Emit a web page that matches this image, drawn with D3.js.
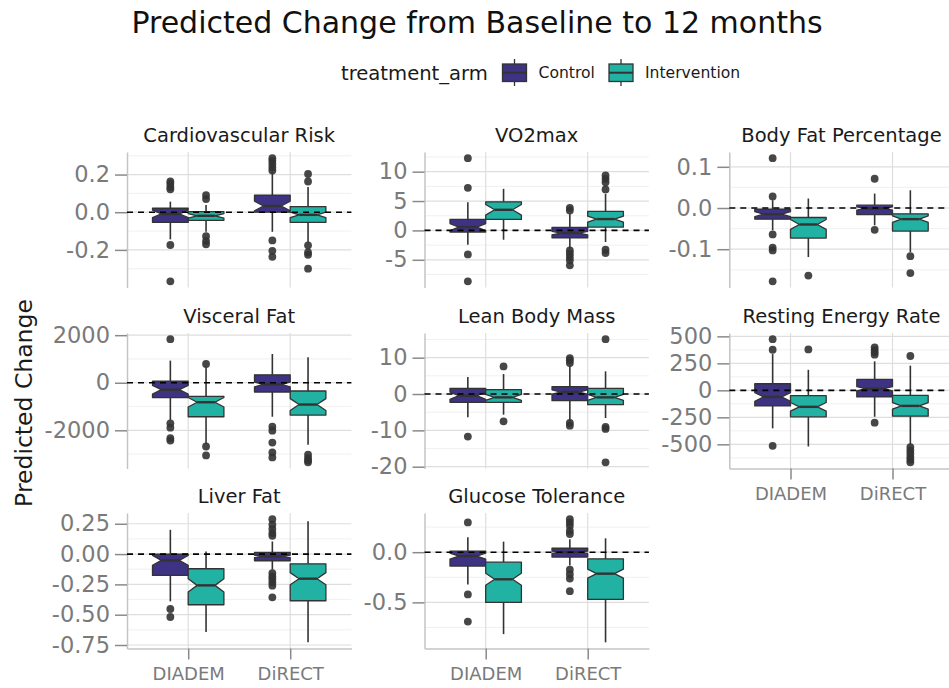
<!DOCTYPE html>
<html lang="en">
<head>
<meta charset="UTF-8">
<title>Predicted Change from Baseline to 12 months</title>
<script src="https://cdn.jsdelivr.net/npm/d3@7"></script>
<style>
body{margin:0;background:#fff;}
svg{display:block;font-family:"DejaVu Sans",sans-serif;}
</style>
</head>
<body>
<script>
// categories
var studies = ["DIADEM", "DiRECT"];
var arms = ["Control", "Intervention"];
var outcomes = ["Cardiovascular Risk", "VO2max", "Body Fat Percentage",
                "Visceral Fat", "Lean Body Mass", "Resting Energy Rate",
                "Liver Fat", "Glucose Tolerance"];

// each panel: 4 boxes in order DIADEM-Control, DIADEM-Intervention, DiRECT-Control, DiRECT-Intervention
// box = [lower whisker, Q1, median, Q3, upper whisker, notch half-width]
var cardioBox = [[-0.144,-0.054,-0.009,0.021,0.056,0.02],[-0.104,-0.043,-0.019,0.003,0.038,0.012],
                 [-0.104,0.0,0.033,0.09,0.212,0.025],[-0.162,-0.054,-0.014,0.03,0.134,0.015]];
var cardioOut = [[0.163,0.151,0.134,0.122,-0.174,-0.367],[0.09,0.07,-0.127,-0.153,-0.17],
                 [0.287,0.273,0.256,0.238,0.221,-0.15,-0.205,-0.237],[0.203,0.163,-0.176,-0.214,-0.226,-0.30]];

var vo2Box = [[-2.44,-0.28,0.57,1.87,4.8,0.6],[-1.59,1.87,3.51,4.87,7.08,0.9],
              [-3.1,-1.25,-0.45,0.51,2.83,0.3],[-1.98,0.57,1.93,3.23,6.23,0.5]];
var vo2Out = [[12.3,7.25,-4.08,-8.67],[],
              [3.85,3.4,-3.4,-3.97,-4.53,-5.1,-5.95],[9.35,8.78,8.2,6.97,-3.29,-3.85]];

var bodyFatBox = [[-0.054,-0.027,-0.015,-0.003,0.019,0.006],[-0.119,-0.073,-0.04,-0.023,0.023,0.012],
                  [-0.042,-0.016,-0.001,0.007,0.035,0.004],[-0.107,-0.056,-0.027,-0.014,0.043,0.008]];
var bodyFatOut = [[0.121,0.028,-0.064,-0.096,-0.103,-0.178],[-0.164],
                  [0.071,-0.053],[-0.117,-0.158]];

var visceralBox = [[-1570,-625,-292,69,931,180],[-2570,-1430,-819,-569,680,200],
                   [-1430,-389,-69,333,1208,100],[-2611,-1361,-917,-347,1070,250]];
var visceralOut = [[1833,-1708,-1889,-2333,-2430],[792,-2680,-3056],
                   [-1847,-2014,-2514,-2930,-3139],[-3028,-3167,-3264,-3347]];

var leanBox = [[-6.42,-2.29,-0.46,1.56,4.68,1.0],[-5.69,-2.29,-0.92,1.19,5.5,0.8],
               [-7.52,-1.83,0.55,2.02,7.8,0.6],[-6.6,-2.94,-0.92,1.56,6.24,0.8]];
var leanOut = [[-11.7],[7.6,-7.52],
               [9.9,9.27,8.53,-7.98,-8.72],[15.1,-9.08,-9.6,-18.8]];

var reeBox = [[-352,-144,-61,61,336,40],[-520,-245,-153,-49,190,40],
              [-245,-61,15,101,269,20],[-505,-239,-144,-46,229,30]];
var reeOut = [[474,376,-514],[379],
              [398,373,352,330,-300],[318,-526,-557,-587,-618,-642,-667]];

var liverBox = [[-0.39,-0.176,-0.052,0.0,0.2,0.04],[-0.643,-0.418,-0.258,-0.121,0.022,0.055],
                [-0.129,-0.055,-0.019,0.014,0.104,0.01],[-0.728,-0.385,-0.203,-0.08,0.27,0.05]];
var liverOut = [[-0.453,-0.519],[],
                [0.288,0.242,0.206,0.173,0.151,-0.157,-0.184,-0.206,-0.234,-0.261,-0.357],[]];

var glucoseBox = [[-0.322,-0.138,-0.039,0.01,0.148,0.03],[-0.816,-0.5,-0.27,-0.099,0.105,0.06],
                  [-0.132,-0.049,0.0,0.039,0.13,0.012],[-0.898,-0.47,-0.214,-0.066,0.138,0.045]];
var glucoseOut = [[0.296,-0.421,-0.691],[],
                  [0.329,0.296,0.263,0.214,0.181,-0.174,-0.22,-0.263,-0.388],[]];

// y tick labels per panel, and decimals used
var yTicks = [[-0.2,0,0.2],[-5,0,5,10],[-0.1,0,0.1],[-2000,0,2000],
              [-20,-10,0,10],[-500,-250,0,250,500],[-0.75,-0.5,-0.25,0,0.25],[-0.5,0]];
var yDigits = [1,0,1,0,0,0,2,1];

var allBoxes = [cardioBox, vo2Box, bodyFatBox, visceralBox, leanBox, reeBox, liverBox, glucoseBox];
var allOuts = [cardioOut, vo2Out, bodyFatOut, visceralOut, leanOut, reeOut, liverOut, glucoseOut];

var W = 949, H = 688;
var colLeft = [127, 424.5, 729.3];
var rowTop = [152, 333, 513];
var pw = 224.4, ph = 135.5;
var fillC = d3.scaleOrdinal().domain(arms).range(["#3e3382", "#21b2a4"]);
var lineC = "#333333";
var txtGrey = "#7a7a7a";

var svg = d3.select("body").append("svg").attr("width", W).attr("height", H);

// title
svg.append("text").attr("x", 477).attr("y", 33).attr("text-anchor", "middle")
   .attr("font-size", 30).attr("fill", "#111").text("Predicted Change from Baseline to 12 months");

// legend
svg.append("text").attr("x", 341).attr("y", 79.5).attr("font-size", 19.6).attr("fill", "#1a1a1a").text("treatment_arm");
var legX = [502.5, 609];
arms.forEach(function(a, i){
	var lg = svg.append("g").attr("transform", "translate(" + legX[i] + ",0)");
	lg.append("line").attr("x1", 12).attr("x2", 12).attr("y1", 59).attr("y2", 86).attr("stroke", lineC).attr("stroke-width", 1.3);
	lg.append("rect").attr("x", 0).attr("y", 64).attr("width", 24).attr("height", 17.5)
	  .attr("fill", fillC(a)).attr("stroke", lineC).attr("stroke-width", 1.3);
	lg.append("line").attr("x1", 0).attr("x2", 24).attr("y1", 72.7).attr("y2", 72.7).attr("stroke", lineC).attr("stroke-width", 2);
	svg.append("text").attr("x", legX[i] + 36).attr("y", 78.3).attr("font-size", 15.6).attr("fill", "#1a1a1a").text(a);
});

// y axis title
svg.append("text").attr("transform", "translate(32,403) rotate(-90)").attr("text-anchor", "middle")
   .attr("font-size", 23.5).attr("fill", "#1a1a1a").text("Predicted Change");

outcomes.forEach(function(name, k){
	var col = k % 3, row = Math.floor(k / 3);
	var boxes = allBoxes[k], outs = allOuts[k];
	var g = svg.append("g").attr("transform", "translate(" + colLeft[col] + "," + rowTop[row] + ")");

	var x = d3.scalePoint().domain(studies).range([0, pw]).padding(0.6);
	var dodge = d3.scaleBand().domain(arms).range([-0.35 * x.step(), 0.35 * x.step()]);

	var vals = [];
	boxes.forEach(function(b){ vals.push(b[0], b[4]); });
	outs.forEach(function(o){ vals = vals.concat(o); });
	var ext = d3.extent(vals), pad = (ext[1] - ext[0]) * 0.05;
	var y = d3.scaleLinear().domain([ext[0] - pad, ext[1] + pad]).range([ph, 0]);

	// grid: minor then major
	var t = yTicks[k], bd = t[1] - t[0], minor = [];
	for (var v = t[0] - bd; v <= t[t.length - 1] + bd + 1e-9; v += bd / 2) {
		var isMajor = t.some(function(m){ return Math.abs(m - v) < bd * 1e-6; });
		if (!isMajor && v >= y.domain()[0] && v <= y.domain()[1]) minor.push(v);
	}
	g.selectAll(".minor").data(minor).enter().append("line")
	 .attr("x1", 0).attr("x2", pw).attr("y1", function(d){ return y(d); }).attr("y2", function(d){ return y(d); })
	 .attr("stroke", "#ececec").attr("stroke-width", 0.8);
	g.selectAll(".major").data(t).enter().append("line")
	 .attr("x1", 0).attr("x2", pw).attr("y1", function(d){ return y(d); }).attr("y2", function(d){ return y(d); })
	 .attr("stroke", "#dedede").attr("stroke-width", 1.2);
	g.selectAll(".vmajor").data(studies).enter().append("line")
	 .attr("x1", function(d){ return x(d); }).attr("x2", function(d){ return x(d); })
	 .attr("y1", 0).attr("y2", ph).attr("stroke", "#dedede").attr("stroke-width", 1.2);

	// strip title
	g.append("text").attr("x", pw / 2).attr("y", -10).attr("text-anchor", "middle")
	 .attr("font-size", 19.5).attr("fill", "#1a1a1a").text(name);

	// y axis
	var fmt = d3.format("." + yDigits[k] + "f");
	var ya = g.append("g").call(d3.axisLeft(y).tickValues(t).tickSize(12).tickSizeOuter(0).tickPadding(5)
	           .tickFormat(function(d){ return fmt(d).replace("\u2212", "-"); }));
	ya.select(".domain").attr("stroke", "#c4c4c4").attr("stroke-width", 1.5);
	ya.selectAll(".tick line").attr("stroke", "#8a8a8a").attr("stroke-width", 1.5);
	ya.selectAll(".tick text").attr("fill", txtGrey).attr("font-size", 22.5).attr("font-family", "DejaVu Sans");

	// x axis only where nothing sits below
	if (row === 2 || k === 5) {
		var xa = g.append("g").attr("transform", "translate(0," + ph + ")")
		          .call(d3.axisBottom(x).tickSize(11).tickSizeOuter(0).tickPadding(8));
		xa.select(".domain").attr("stroke", "#c4c4c4").attr("stroke-width", 1.5);
		xa.selectAll(".tick line").attr("stroke", "#8a8a8a").attr("stroke-width", 1.5);
		xa.selectAll(".tick text").attr("fill", txtGrey).attr("font-size", 18).attr("font-family", "DejaVu Sans");
	}

	// boxes
	var bw = dodge.bandwidth();
	boxes.forEach(function(b, i){
		var study = studies[Math.floor(i / 2)], arm = arms[i % 2];
		var xmin = x(study) + dodge(arm), xmax = xmin + bw, cx = xmin + bw / 2;
		var ind = 0.25 * bw;
		var bg = g.append("g");
		bg.append("line").attr("x1", cx).attr("x2", cx).attr("y1", y(b[3])).attr("y2", y(b[4]))
		  .attr("stroke", lineC).attr("stroke-width", 1.6);
		bg.append("line").attr("x1", cx).attr("x2", cx).attr("y1", y(b[1])).attr("y2", y(b[0]))
		  .attr("stroke", lineC).attr("stroke-width", 1.6);
		var nu = b[2] + b[5], nl = b[2] - b[5];
		var pts = [[xmin, b[3]], [xmin, nu], [xmin + ind, b[2]], [xmin, nl], [xmin, b[1]],
		           [xmax, b[1]], [xmax, nl], [xmax - ind, b[2]], [xmax, nu], [xmax, b[3]]];
		bg.append("path").attr("d", d3.line().x(function(p){ return p[0]; }).y(function(p){ return y(p[1]); })(pts) + "Z")
		  .attr("fill", fillC(arm)).attr("stroke", lineC).attr("stroke-width", 1.3).attr("stroke-linejoin", "round");
		bg.append("line").attr("x1", xmin + ind).attr("x2", xmax - ind).attr("y1", y(b[2])).attr("y2", y(b[2]))
		  .attr("stroke", lineC).attr("stroke-width", 2.4);
		bg.selectAll("circle").data(outs[i]).enter().append("circle")
		  .attr("cx", cx).attr("cy", function(d){ return y(d); }).attr("r", 3.9)
		  .attr("fill", "#333").attr("fill-opacity", 0.9);
	});

	// zero reference
	g.append("line").attr("x1", 0).attr("x2", pw).attr("y1", y(0)).attr("y2", y(0))
	 .attr("stroke", "#000").attr("stroke-width", 1.6).attr("stroke-dasharray", "6,5");
});
</script>
</body>
</html>
